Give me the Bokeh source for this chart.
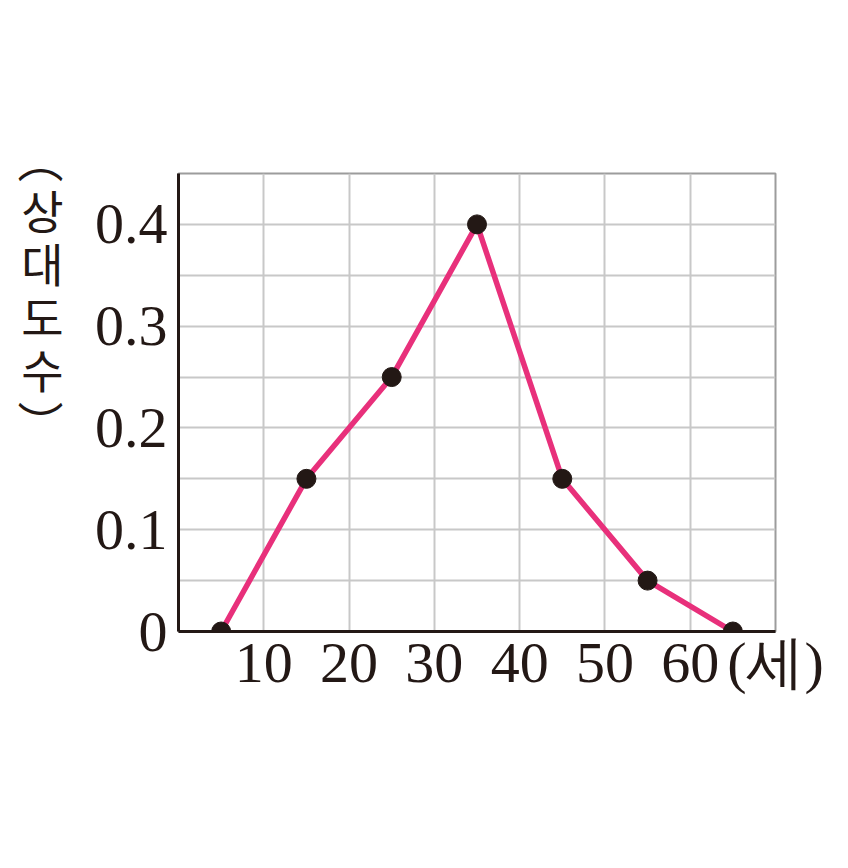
from bokeh.plotting import figure
from bokeh.models import FixedTicker, LinearAxis
from bokeh.embed import file_html
from bokeh.resources import INLINE

# data
ages = [5, 15, 25, 35, 45, 55, 65]
rel_freq = [0, 0.15, 0.25, 0.4, 0.15, 0.05, 0]
x_ticks = [10, 20, 30, 40, 50, 60, 70]
x_tick_labels = ["10", "20", "30", "40", "50", "60", "(세)"]
y_ticks = [0, 0.1, 0.2, 0.3, 0.4]
y_tick_labels = ["0", "0.1", "0.2", "0.3", "0.4"]
x_grid = [10, 20, 30, 40, 50, 60]
y_grid = [0.05, 0.1, 0.15, 0.2, 0.25, 0.3, 0.35, 0.4]
y_title = "︵\n상\n대\n도\n수\n︶"

DARK = "#231815"
PINK = "#e8307b"
SERIF = "Liberation Serif"
KR = "Noto Sans CJK KR"

p = figure(width=832, height=852, x_range=(0, 70), y_range=(0, 0.45),
           output_backend="svg", toolbar_location=None,
           min_border_left=178, min_border_right=57,
           min_border_top=173, min_border_bottom=221)

p.outline_line_color = "#9c9c9c"
p.outline_line_width = 2

p.xgrid.ticker = FixedTicker(ticks=x_grid)
p.ygrid.ticker = FixedTicker(ticks=y_grid)
for g in (p.xgrid, p.ygrid):
    g.grid_line_color = "#c8c8c8"
    g.grid_line_width = 2

for ax in (p.xaxis, p.yaxis):
    ax.axis_line_color = DARK
    ax.axis_line_width = 3
    ax.major_tick_line_color = None
    ax.minor_tick_line_color = None
    ax.major_label_text_font = SERIF
    ax.major_label_text_font_size = "58px"
    ax.major_label_text_color = DARK

p.xaxis.ticker = FixedTicker(ticks=x_ticks)
p.xaxis.major_label_overrides = {t: s for t, s in zip(x_ticks, x_tick_labels)}
p.xaxis.major_label_standoff = -8
p.yaxis.ticker = FixedTicker(ticks=y_ticks)
p.yaxis.major_label_overrides = {t: s for t, s in zip(y_ticks, y_tick_labels)}
p.yaxis.major_label_standoff = 5

# stacked vertical title, placed as a single label of an extra left axis
title_pos = (631 - 288) / (458 / 0.45)
title_axis = LinearAxis(ticker=FixedTicker(ticks=[title_pos]),
                        major_label_overrides={title_pos: y_title},
                        axis_line_color=None, major_tick_line_color=None,
                        minor_tick_line_color=None,
                        major_label_text_font=KR,
                        major_label_text_font_size="46px",
                        major_label_text_color=DARK,
                        major_label_text_line_height=0.8,
                        major_label_standoff=22)
p.add_layout(title_axis, "left")

p.line(ages, rel_freq, line_color=PINK, line_width=5.5)
p.scatter(ages, rel_freq, size=19, fill_color=DARK, line_color=DARK)

open("out.html", "w").write(file_html(p, INLINE))
